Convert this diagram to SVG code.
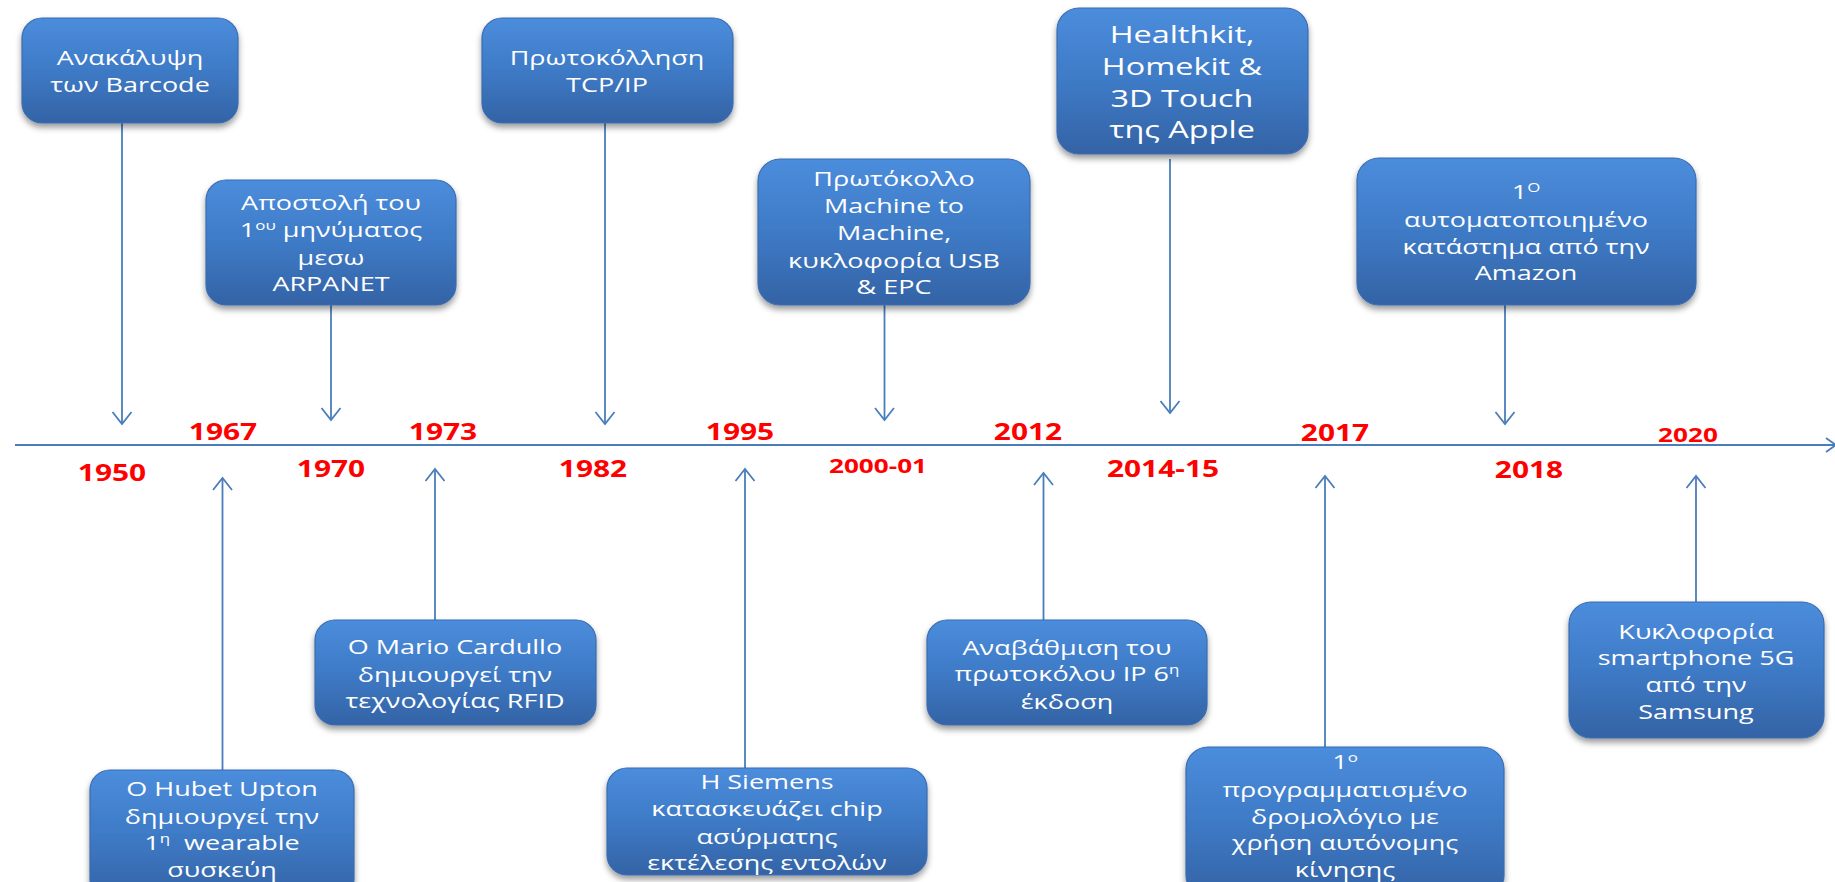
<svg xmlns="http://www.w3.org/2000/svg" width="1835" height="882" viewBox="0 0 1835 882">
<defs>
<linearGradient id="boxg" x1="0" y1="0" x2="0" y2="1">
<stop offset="0" stop-color="#4B8DDC"/>
<stop offset="0.5" stop-color="#3E7AC6"/>
<stop offset="1" stop-color="#3463A5"/>
</linearGradient>
<filter id="sh" x="-10%" y="-10%" width="120%" height="130%">
<feDropShadow dx="0" dy="4" stdDeviation="3" flood-color="#000" flood-opacity="0.4"/>
</filter>
<marker id="ah" viewBox="-14 -11 16 22" markerWidth="16" markerHeight="22" refX="0" refY="0" orient="auto" markerUnits="userSpaceOnUse">
<path d="M-12,-9.5 L0,0 L-12,9.5" fill="none" stroke="#4A7EBB" stroke-width="1.8"/>
</marker>
<marker id="ah2" viewBox="-14 -9 16 18" markerWidth="16" markerHeight="18" refX="0" refY="0" orient="auto" markerUnits="userSpaceOnUse">
<path d="M-10,-7 L0,0 L-10,7" fill="none" stroke="#4A7EBB" stroke-width="1.8"/>
</marker>
</defs>
<style>
.box{fill:url(#boxg);stroke:#3A6CB0;stroke-width:1.2;filter:url(#sh)}
.t{font-family:"Open Sans","Noto Sans",sans-serif;font-size:20px;fill:#fff;text-anchor:middle}
.tb{font-size:24px}
.sup{font-size:12.5px}
.yr{font-family:"Open Sans","Liberation Sans",sans-serif;font-weight:bold;font-size:23px;fill:#FF0000;text-anchor:middle}
.ys{font-size:19.5px}
.c{stroke:#4A7EBB;stroke-width:1.8;fill:none;marker-end:url(#ah)}
</style>
<rect width="1835" height="882" fill="#fff"/>

<g id="timeline">
<line x1="15" y1="445" x2="1836" y2="445" stroke="#4A7EBB" stroke-width="2" marker-end="url(#ah2)"/>
</g>

<g id="connectors">
<line class="c" x1="122" y1="123" x2="122" y2="424"/>
<line class="c" x1="605" y1="123" x2="605" y2="424"/>
<line class="c" x1="331" y1="305" x2="331" y2="420"/>
<line class="c" x1="884.5" y1="305" x2="884.5" y2="420"/>
<line class="c" x1="1170" y1="159" x2="1170" y2="413"/>
<line class="c" x1="1505" y1="305" x2="1505" y2="424"/>
<line class="c" x1="222.5" y1="770" x2="222.5" y2="478"/>
<line class="c" x1="435" y1="620" x2="435" y2="469"/>
<line class="c" x1="745" y1="768" x2="745" y2="469"/>
<line class="c" x1="1043.5" y1="620" x2="1043.5" y2="473"/>
<line class="c" x1="1325" y1="747" x2="1325" y2="476"/>
<line class="c" x1="1696" y1="602" x2="1696" y2="476"/>
</g>

<g id="years">
<text class="yr" transform="translate(223 0) scale(1.3 1)" y="440">1967</text>
<text class="yr" transform="translate(443 0) scale(1.3 1)" y="440">1973</text>
<text class="yr" transform="translate(740 0) scale(1.3 1)" y="440">1995</text>
<text class="yr" transform="translate(1028 0) scale(1.3 1)" y="440">2012</text>
<text class="yr" transform="translate(1335 0) scale(1.3 1)" y="441">2017</text>
<text class="yr ys" transform="translate(1688 0) scale(1.34 1)" y="442">2020</text>
<text class="yr" transform="translate(112 0) scale(1.3 1)" y="481">1950</text>
<text class="yr" transform="translate(331 0) scale(1.3 1)" y="477">1970</text>
<text class="yr" transform="translate(593 0) scale(1.3 1)" y="477">1982</text>
<text class="yr ys" transform="translate(878 0) scale(1.34 1)" y="473">2000-01</text>
<text class="yr" transform="translate(1163 0) scale(1.3 1)" y="477">2014-15</text>
<text class="yr" transform="translate(1529 0) scale(1.3 1)" y="478">2018</text>
</g>

<g id="n1950">
<rect class="box" x="22" y="18" width="216" height="105" rx="20"/>
<text class="t" transform="translate(130 0) scale(1.35 1)"><tspan x="0" y="65">Ανακάλυψη</tspan><tspan x="0" y="92">των Barcode</tspan></text>
</g>

<g id="n1982">
<rect class="box" x="482" y="18" width="251" height="105" rx="20"/>
<text class="t" transform="translate(607 0) scale(1.35 1)"><tspan x="0" y="65">Πρωτοκόλληση</tspan><tspan x="0" y="92">TCP/IP</tspan></text>
</g>

<g id="n1970">
<rect class="box" x="206" y="180" width="250" height="125" rx="20"/>
<text class="t" transform="translate(331 0) scale(1.35 1)"><tspan x="0" y="210">Αποστολή του</tspan><tspan x="0" y="237">1<tspan class="sup" dy="-7">ου</tspan><tspan dy="7"> μηνύματος</tspan></tspan><tspan x="0" y="265">μεσω</tspan><tspan x="0" y="291">ARPANET</tspan></text>
</g>

<g id="n2000">
<rect class="box" x="758" y="159" width="272" height="146" rx="22"/>
<text class="t" transform="translate(894 0) scale(1.35 1)"><tspan x="0" y="186">Πρωτόκολλο</tspan><tspan x="0" y="213">Machine to</tspan><tspan x="0" y="240">Machine,</tspan><tspan x="0" y="268">κυκλοφορία USB</tspan><tspan x="0" y="294">&amp; EPC</tspan></text>
</g>

<g id="n2014">
<rect class="box" x="1057" y="8" width="251" height="146" rx="22"/>
<text class="t tb" transform="translate(1182 0) scale(1.35 1)"><tspan x="0" y="43">Healthkit,</tspan><tspan x="0" y="75">Homekit &amp;</tspan><tspan x="0" y="107">3D Touch</tspan><tspan x="0" y="138">της Apple</tspan></text>
</g>

<g id="n2018">
<rect class="box" x="1357" y="158" width="339" height="147" rx="22"/>
<text class="t" transform="translate(1526 0) scale(1.35 1)"><tspan x="0" y="199">1<tspan class="sup" dy="-7">Ο</tspan></tspan><tspan x="0" y="227">αυτοματοποιημένο</tspan><tspan x="0" y="254">κατάστημα από την</tspan><tspan x="0" y="280">Amazon</tspan></text>
</g>

<g id="n1967">
<rect class="box" x="90" y="770" width="264" height="130" rx="20"/>
<text class="t" transform="translate(222 0) scale(1.35 1)"><tspan x="0" y="796">Ο Hubet Upton</tspan><tspan x="0" y="824">δημιουργεί την</tspan><tspan x="0" y="850">1<tspan class="sup" dy="-7">η</tspan><tspan dy="7">&#160; wearable</tspan></tspan><tspan x="0" y="877">συσκεύη</tspan></text>
</g>

<g id="n1973">
<rect class="box" x="315" y="620" width="281" height="105" rx="20"/>
<text class="t" transform="translate(455 0) scale(1.35 1)"><tspan x="0" y="654">Ο Mario Cardullo</tspan><tspan x="0" y="682">δημιουργεί την</tspan><tspan x="0" y="708">τεχνολογίας RFID</tspan></text>
</g>

<g id="n1995">
<rect class="box" x="607" y="768" width="320" height="107" rx="20"/>
<text class="t" transform="translate(767 0) scale(1.35 1)"><tspan x="0" y="789">Η Siemens</tspan><tspan x="0" y="816">κατασκευάζει chip</tspan><tspan x="0" y="844">ασύρματης</tspan><tspan x="0" y="870">εκτέλεσης εντολών</tspan></text>
</g>

<g id="n2012">
<rect class="box" x="927" y="620" width="280" height="105" rx="20"/>
<text class="t" transform="translate(1067 0) scale(1.35 1)"><tspan x="0" y="655">Αναβάθμιση του</tspan><tspan x="0" y="681">πρωτοκόλου IP 6<tspan class="sup" dy="-7">η</tspan></tspan><tspan x="0" y="709">έκδοση</tspan></text>
</g>

<g id="n2017">
<rect class="box" x="1186" y="747" width="318" height="150" rx="22"/>
<text class="t" transform="translate(1345 0) scale(1.35 1)"><tspan x="0" y="769">1<tspan class="sup" dy="-7">ο</tspan></tspan><tspan x="0" y="797">προγραμματισμένο</tspan><tspan x="0" y="824">δρομολόγιο με</tspan><tspan x="0" y="850">χρήση αυτόνομης</tspan><tspan x="0" y="877">κίνησης</tspan></text>
</g>

<g id="n2020">
<rect class="box" x="1569" y="602" width="255" height="136" rx="22"/>
<text class="t" transform="translate(1696 0) scale(1.35 1)"><tspan x="0" y="639">Κυκλοφορία</tspan><tspan x="0" y="665">smartphone 5G</tspan><tspan x="0" y="692">από την</tspan><tspan x="0" y="719">Samsung</tspan></text>
</g>
</svg>
